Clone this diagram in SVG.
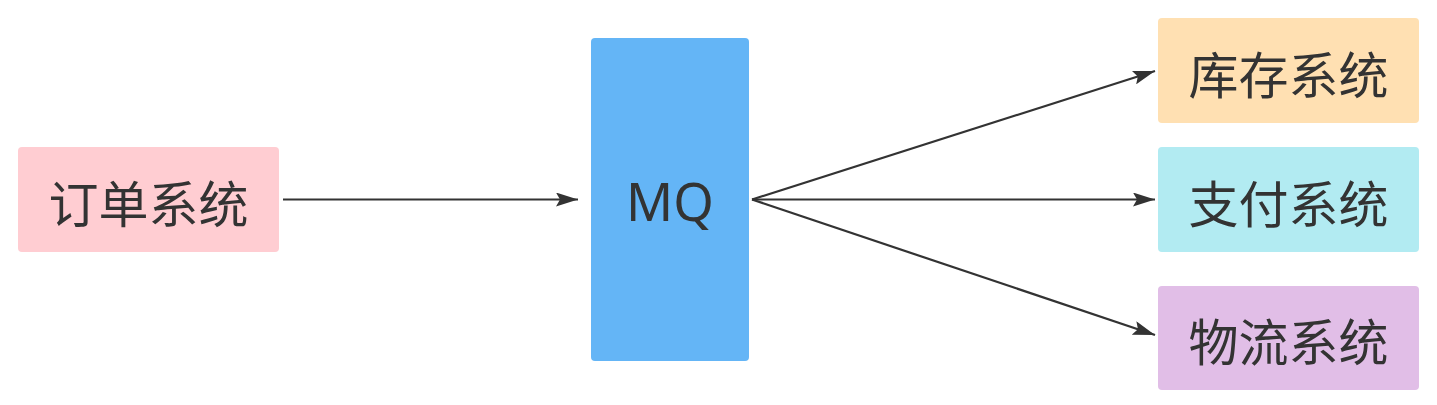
<svg xmlns="http://www.w3.org/2000/svg" width="1437" height="405" viewBox="0 0 1437 405">
<defs>
<style>
.node rect{stroke:none}
.label{font-family:"Noto Sans CJK SC","Noto Sans",sans-serif;font-size:50px;fill:#333333;text-anchor:middle;dominant-baseline:central}
.mq{font-family:"Noto Sans","Open Sans",sans-serif;font-size:52px}
.edge{stroke:#333333;stroke-width:2.2;fill:none}
</style>
<marker id="arrow" viewBox="0 0 22 14" refX="22" refY="7" markerWidth="22" markerHeight="14" markerUnits="userSpaceOnUse" orient="auto">
<path d="M0,0 L22,7 L0,14 L4,7 Z" fill="#333333"/>
</marker>
</defs>
<rect width="1437" height="405" fill="#ffffff"/>
<g id="connectors">
<line class="edge" x1="283" y1="199.5" x2="578" y2="199.5" marker-end="url(#arrow)"/>
<line class="edge" x1="752" y1="199.5" x2="1155" y2="71" marker-end="url(#arrow)"/>
<line class="edge" x1="752" y1="199.5" x2="1155" y2="199.5" marker-end="url(#arrow)"/>
<line class="edge" x1="752" y1="199.5" x2="1155" y2="335" marker-end="url(#arrow)"/>
</g>
<g id="order" class="node">
<rect x="18" y="147" width="261" height="105" rx="4" fill="#FFCDD2"/>
<text class="label" x="148.5" y="201">订单系统</text>
</g>
<g id="mq" class="node">
<rect x="591" y="38" width="158" height="323" rx="4" fill="#64B5F6"/>
<text class="label mq" x="670" y="200">MQ</text>
</g>
<g id="stock" class="node">
<rect x="1158" y="18" width="261" height="105" rx="4" fill="#FFE0B2"/>
<text class="label" x="1288.5" y="72">库存系统</text>
</g>
<g id="pay" class="node">
<rect x="1158" y="147" width="261" height="105" rx="4" fill="#B2EBF2"/>
<text class="label" x="1288.5" y="201">支付系统</text>
</g>
<g id="logistics" class="node">
<rect x="1158" y="286" width="261" height="104" rx="4" fill="#E1BEE7"/>
<text class="label" x="1288.5" y="339">物流系统</text>
</g>
</svg>
